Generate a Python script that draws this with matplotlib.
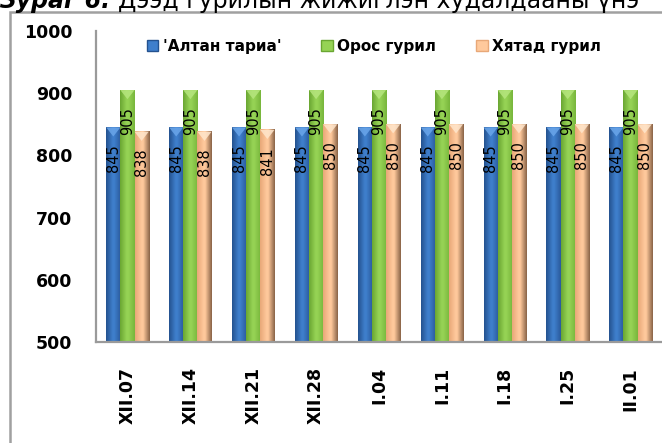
import numpy as np
import matplotlib.pyplot as plt
from matplotlib.patches import Patch, Polygon, Rectangle
from matplotlib.colors import to_rgb

# data
dates = ["XII.07", "XII.14", "XII.21", "XII.28", "I.04", "I.11", "I.18", "I.25", "II.01"]
series = ["'Алтан тариа'", "Орос гурил", "Хятад гурил"]
altan = [845, 845, 845, 845, 845, 845, 845, 845, 845]
oros = [905, 905, 905, 905, 905, 905, 905, 905, 905]
hyatad = [838, 838, 841, 850, 850, 850, 850, 850, 850]

# (left edge, middle, right edge, cap)
shades = [
    ("#24528f", "#3f7fcc", "#2a5a9c", "#6aa6ea"),
    ("#6aa632", "#96d355", "#78b63c", "#b6e67e"),
    ("#e8a878", "#ffc99c", "#8a6448", "#ffe6cc"),
]

fig = plt.figure(figsize=(6.62, 4.43), dpi=100)
ax = fig.add_axes([96 / 662, 1 - 342 / 443, 1 - 96 / 662, (342 - 31) / 443])

x = np.arange(len(dates))
w = 0.225
ymin = 500

def grad(c):
    l, m, r = (np.array(to_rgb(k)) for k in c[:3])
    t = np.linspace(0, 1, 40)[:, None]
    left = l + (m - l) * np.clip(t / 0.45, 0, 1)
    right = m + (r - m) * np.clip((t - 0.55) / 0.45, 0, 1)
    g = np.where(t < 0.5, left, right)
    return g[None, :, :]

for k, vals in enumerate([altan, oros, hyatad]):
    img = grad(shades[k])
    for i, v in enumerate(vals):
        x0 = x[i] + (k - 1) * w - w / 2
        ax.imshow(img, extent=(x0, x0 + w, ymin, v), aspect="auto",
                  interpolation="bilinear", zorder=2)
        # bevelled top of the bar
        ax.add_patch(Polygon([[x0, v], [x0 + w, v], [x0 + w / 2, v - 9 / 0.616]],
                             closed=True, facecolor=shades[k][3], edgecolor="none",
                             alpha=0.85, zorder=3))
        ax.annotate(str(v), (x0 + w / 2, v), xytext=(0, -17), textcoords="offset pixels",
                    rotation=90, ha="center", va="top", fontsize=10.5, zorder=4)

ax.set_xlim(-0.5, len(dates) - 0.5)
ax.set_ylim(500, 1000)
ax.set_yticks(range(500, 1001, 100))
ax.set_xticks(x)
ax.set_xticklabels(dates, rotation=90, fontsize=12.5, fontweight="bold", va="top")
ax.tick_params(axis="y", length=0, pad=17, labelsize=12.5)
ax.tick_params(axis="x", length=0, pad=18)
for lab in ax.get_yticklabels():
    lab.set_fontweight("bold")
for s in ["top", "right"]:
    ax.spines[s].set_visible(False)
for s in ["left", "bottom"]:
    ax.spines[s].set_color("#9a9a9a")
    ax.spines[s].set_linewidth(1.6)

handles = [Patch(facecolor=shades[k][1], edgecolor=shades[k][0], label=series[k])
           for k in range(3)]
fig.legend(handles=handles, loc="center", bbox_to_anchor=(374 / 662, 1 - 46 / 443),
           ncol=3, frameon=False, handlelength=0.75, handleheight=0.75, handletextpad=0.3,
           columnspacing=2.6, prop={"weight": "bold", "size": 11})

# outer chart frame, partly cut off
fig.patches.append(Rectangle((10 / 662, -0.1), 1.2, 1.1 - 12 / 443,
                             transform=fig.transFigure, fill=False,
                             edgecolor="#a0a0a0", linewidth=1.8, clip_on=False))

# caption above the chart, only its lower part shows (as in the source)
t1 = fig.text(-0.002, 1 - 8 / 443, "Зураг 6.", fontsize=17, fontweight="bold",
              fontstyle="italic", va="baseline", ha="left")
r = fig.canvas.get_renderer()
bb = t1.get_window_extent(r)
fig.text(bb.x1 / 662 + 0.012, 1 - 8 / 443, "Дээд гурилын жижиглэн худалдааны үнэ",
         fontsize=17, va="baseline", ha="left")

fig.savefig("out.png", dpi=100)
